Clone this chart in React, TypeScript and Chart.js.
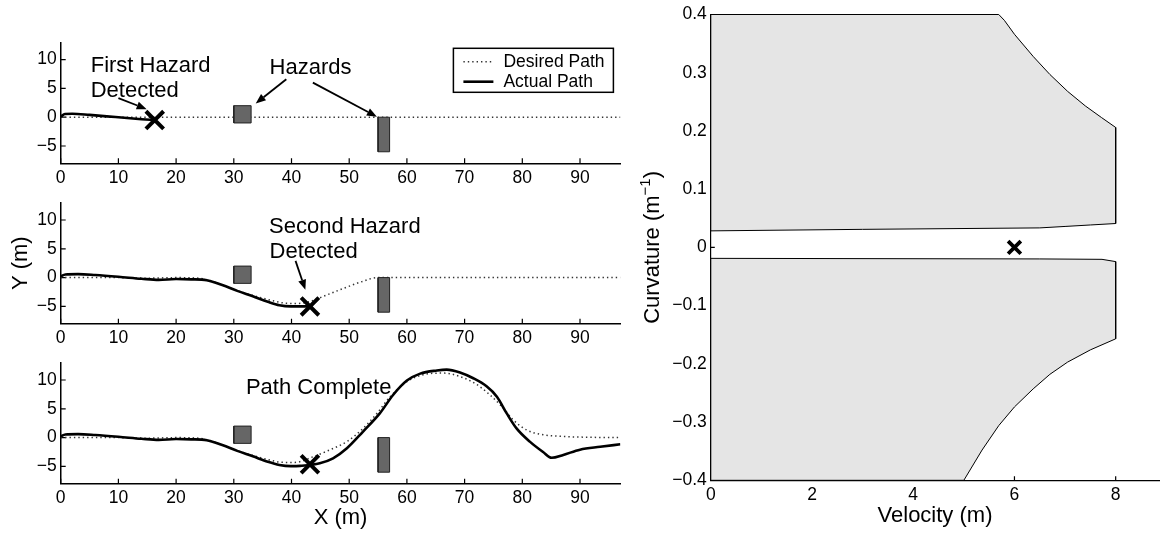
import { useEffect, useRef } from 'react';
import { Chart, registerables } from 'chart.js';

Chart.register(...registerables);

// ---------- data ----------
const xTicksPath = [0, 10, 20, 30, 40, 50, 60, 70, 80, 90];
const yTicksPath = [-5, 0, 5, 10];
const xTicksVel = [0, 2, 4, 6, 8];
const yTicksCurv = [-0.4, -0.3, -0.2, -0.1, 0, 0.1, 0.2, 0.3, 0.4];

const hazardAX = [30, 33, 33, 30, 30];
const hazardAY = [-1, -1, 2, 2, -1];
const hazardBX = [55, 57, 57, 55, 55];
const hazardBY = [-6, -6, 0, 0, -6];

// panel 1
const desired1X = [0, 97];
const desired1Y = [0, 0];
const actual1X = [0, 0.75, 2, 5, 8, 11, 14, 16.3];
const actual1Y = [0.1, 0.55, 0.6, 0.4, 0.15, -0.1, -0.35, -0.5];
const detect1X = [16.3];
const detect1Y = [-0.5];

// panel 2
const desired2X = [0, 10, 15, 20, 24, 26.6, 30.1, 33.3, 35.9, 38.6, 40.6, 43, 45.9, 49.2, 52.5, 54.8, 60, 70, 80, 90, 97];
const desired2Y = [0, 0, -0.1, 0, -0.1, -0.75, -2.1, -3.1, -3.8, -4.4, -4.5, -4.2, -3.1, -1.8, -0.6, 0, 0, 0, 0, 0, 0];
const actual2X = [0, 0.8, 3, 6, 10, 14, 17, 20, 22.6, 25.3, 28, 30.6, 33.3, 35.9, 37.9, 39.9, 41.5, 43.2];
const actual2Y = [0.2, 0.55, 0.6, 0.45, 0.15, -0.2, -0.4, -0.25, -0.3, -0.45, -1.3, -2.3, -3.25, -4.2, -4.8, -5.0, -5.0, -5.0];
const detect2X = [43.2];
const detect2Y = [-5.0];

// panel 3
const desired3X = [0, 10, 15, 20, 24, 26.6, 30.1, 33.3, 35.9, 38.6, 40.6, 43.8, 46.7, 49.6, 52.4, 54.8, 57.1, 60, 62.8, 66.3, 69.2, 72.1, 74.4, 76.7, 78.4, 80.8, 83.6, 87.1, 92, 97];
const desired3Y = [0, 0, -0.1, 0, -0.1, -0.75, -2.1, -3.1, -3.8, -4.3, -4.3, -3.3, -2.1, -0.7, 1.6, 4.2, 7.1, 9.7, 10.9, 11.2, 10.6, 9.2, 7.4, 5.1, 3.1, 1.3, 0.5, 0.2, 0.05, 0];
const actual3X = [0, 0.8, 3, 6, 10, 14, 17, 20, 22.6, 25.3, 28, 30.6, 33.3, 35.9, 37.9, 39.9, 41.5, 44.9, 47.2, 49.6, 52.4, 55.3, 57.6, 60, 62.3, 65.2, 66.9, 69.2, 71.5, 73.8, 75.6, 77.3, 79.0, 81.3, 83.6, 85.1, 87.1, 90, 93.5, 97];
const actual3Y = [0.2, 0.55, 0.6, 0.45, 0.15, -0.2, -0.4, -0.25, -0.3, -0.45, -1.3, -2.3, -3.25, -4.2, -4.75, -4.95, -4.9, -4.45, -3.6, -1.85, 1.05, 4.2, 7.4, 9.9, 11.1, 11.65, 11.8, 11.3, 10.3, 8.9, 7.1, 4.2, 1.6, -0.7, -2.5, -3.5, -3.0, -2.1, -1.6, -1.15];
const detect3X = [43.2];
const detect3Y = [-4.63];

// right chart: feasible curvature / velocity regions
const upperV = [0, 5.69, 5.8, 6.0, 6.37, 6.7, 7.05, 7.4, 7.72, 8.0, 8.0, 7.5, 7.0, 6.5, 3.0, 0, 0];
const upperK = [0.4, 0.4, 0.39, 0.366, 0.328, 0.297, 0.268, 0.243, 0.223, 0.206, 0.041, 0.0385, 0.036, 0.0335, 0.031, 0.0284, 0.4];
const lowerV = [0, 6.5, 7.73, 8.0, 8.0, 7.5, 7.05, 6.7, 6.37, 6.0, 5.69, 5.36, 5.0, 0, 0];
const lowerK = [-0.0188, -0.0198, -0.0205, -0.0244, -0.157, -0.176, -0.197, -0.218, -0.243, -0.274, -0.306, -0.348, -0.4, -0.4, -0.0188];
const stateV = [6];
const stateK = [0];

// ---------- helpers ----------
const W = 1172;
const H = 533;
const YW = 50;
const XH = 40;
const FONT = "'Liberation Sans', Arial, Helvetica, sans-serif";

const pts = (xs: number[], ys: number[]) => xs.map((x, i) => ({ x, y: ys[i] }));
const fmt = (v: number) => (v < 0 ? '\u2212' + String(-v) : String(v));

function drawTicks(chart: any, len: number, width: number) {
  const { ctx, chartArea: a, scales } = chart;
  const x = scales.x;
  const y = scales.y;
  ctx.save();
  ctx.strokeStyle = '#000';
  ctx.lineWidth = width;
  ctx.beginPath();
  x.ticks.forEach((t: any) => {
    const px = x.getPixelForValue(t.value);
    ctx.moveTo(px, a.bottom);
    ctx.lineTo(px, a.bottom - len);
  });
  y.ticks.forEach((t: any) => {
    const py = y.getPixelForValue(t.value);
    ctx.moveTo(a.left, py);
    ctx.lineTo(a.left + len, py);
  });
  ctx.stroke();
  ctx.restore();
}

function text(chart: any, s: string, xv: number, yv: number, size = 22) {
  const { ctx, scales } = chart;
  ctx.save();
  ctx.font = `${size}px ${FONT}`;
  ctx.fillStyle = '#000';
  ctx.textAlign = 'left';
  ctx.textBaseline = 'alphabetic';
  ctx.fillText(s, scales.x.getPixelForValue(xv), scales.y.getPixelForValue(yv));
  ctx.restore();
}

function arrow(chart: any, xa: number, ya: number, xb: number, yb: number) {
  const { ctx, scales } = chart;
  const x1 = scales.x.getPixelForValue(xa);
  const y1 = scales.y.getPixelForValue(ya);
  const x2 = scales.x.getPixelForValue(xb);
  const y2 = scales.y.getPixelForValue(yb);
  const ang = Math.atan2(y2 - y1, x2 - x1);
  const hl = 10;
  const hw = 4;
  const bx = x2 - hl * Math.cos(ang);
  const by = y2 - hl * Math.sin(ang);
  ctx.save();
  ctx.strokeStyle = '#000';
  ctx.fillStyle = '#000';
  ctx.lineWidth = 1.8;
  ctx.beginPath();
  ctx.moveTo(x1, y1);
  ctx.lineTo(bx, by);
  ctx.stroke();
  ctx.beginPath();
  ctx.moveTo(x2, y2);
  ctx.lineTo(bx + hw * Math.sin(ang), by - hw * Math.cos(ang));
  ctx.lineTo(bx - hw * Math.sin(ang), by + hw * Math.cos(ang));
  ctx.closePath();
  ctx.fill();
  ctx.restore();
}

function rotatedLabel(ctx: any, baseX: number, cy: number, main: string, sup: string, tail: string) {
  ctx.save();
  ctx.translate(baseX, cy);
  ctx.rotate(-Math.PI / 2);
  ctx.fillStyle = '#000';
  ctx.textBaseline = 'alphabetic';
  ctx.textAlign = 'left';
  ctx.font = `22px ${FONT}`;
  const w1 = ctx.measureText(main).width;
  const w3 = ctx.measureText(tail).width;
  ctx.font = `15px ${FONT}`;
  const w2 = sup ? ctx.measureText(sup).width : 0;
  const start = -(w1 + w2 + w3) / 2;
  ctx.font = `22px ${FONT}`;
  ctx.fillText(main, start, 0);
  if (sup) {
    ctx.font = `15px ${FONT}`;
    ctx.fillText(sup, start + w1, -9);
  }
  ctx.font = `22px ${FONT}`;
  ctx.fillText(tail, start + w1 + w2, 0);
  ctx.restore();
}

function pathDatasets(desX: number[], desY: number[], actX: number[], actY: number[], detX: number[], detY: number[]) {
  return [
    {
      data: pts(detX, detY), showLine: false, pointStyle: 'crossRot', pointRadius: 12.5,
      pointBorderWidth: 4, pointBorderColor: '#000', pointBackgroundColor: '#000', borderColor: '#000', order: 0,
    },
    {
      data: pts(actX, actY), borderColor: '#000', borderWidth: 2.6, pointRadius: 0,
      cubicInterpolationMode: 'monotone', fill: false, order: 1,
    },
    {
      data: pts(hazardAX, hazardAY), borderColor: '#222', borderWidth: 1, backgroundColor: '#666666',
      fill: 'shape', pointRadius: 0, tension: 0, order: 2,
    },
    {
      data: pts(hazardBX, hazardBY), borderColor: '#222', borderWidth: 1, backgroundColor: '#666666',
      fill: 'shape', pointRadius: 0, tension: 0, order: 2,
    },
    {
      data: pts(desX, desY), borderColor: '#333', borderWidth: 1.5, borderDash: [1.4, 3.0], pointRadius: 0,
      cubicInterpolationMode: 'monotone', fill: false, order: 3,
    },
  ];
}

type Area = { left: number; top: number; right: number; bottom: number };

function buildConfig(
  area: Area, xMin: number, xMax: number, yMin: number, yMax: number,
  xTicks: number[], yTicks: number[], datasets: any[], axisWidth: number, tickLen: number,
  decorate: (c: any) => void,
): any {
  const tickFont = { family: FONT, size: 17.5 };
  return {
    type: 'line',
    data: { datasets },
    options: {
      animation: false,
      responsive: false,
      maintainAspectRatio: false,
      devicePixelRatio: 1,
      events: [],
      layout: {
        padding: { left: area.left - YW, right: W - area.right, top: area.top, bottom: H - area.bottom - XH },
      },
      plugins: { legend: { display: false }, tooltip: { enabled: false }, title: { display: false } },
      scales: {
        x: {
          type: 'linear', position: 'bottom', min: xMin, max: xMax,
          afterFit: (s: any) => { s.height = XH; },
          afterBuildTicks: (s: any) => { s.ticks = xTicks.map((v) => ({ value: v })); },
          grid: { display: false, drawTicks: false },
          border: { display: true, color: '#000', width: axisWidth },
          ticks: { padding: 4, color: '#000', font: tickFont, maxRotation: 0, autoSkip: false, callback: (v: number) => fmt(v) },
        },
        y: {
          type: 'linear', position: 'left', min: yMin, max: yMax,
          afterFit: (s: any) => { s.width = YW; },
          afterBuildTicks: (s: any) => { s.ticks = yTicks.map((v) => ({ value: v })); },
          grid: { display: false, drawTicks: false },
          border: { display: true, color: '#000', width: axisWidth },
          ticks: { padding: 4, color: '#000', font: tickFont, autoSkip: false, callback: (v: number) => fmt(v) },
        },
      },
    },
    plugins: [
      {
        id: 'deco',
        beforeDatasetsDraw: (c: any) => drawTicks(c, tickLen, 1.2),
        afterDraw: (c: any) => decorate(c),
      },
    ],
  };
}

const LEFT = 60.7;
const RIGHT = 620.4;

function configs(): any[] {
  const p1 = buildConfig(
    { left: LEFT, right: RIGHT, top: 42.3, bottom: 163.3 }, 0, 97, -8, 13, xTicksPath, yTicksPath,
    pathDatasets(desired1X, desired1Y, actual1X, actual1Y, detect1X, detect1Y), 1.5, 5,
    (c) => {
      text(c, 'First Hazard', 5.2, 7.93);
      text(c, 'Detected', 5.2, 3.44);
      text(c, 'Hazards', 36.2, 7.48);
      arrow(c, 10.0, 3.3, 14.9, 1.4);
      arrow(c, 39.1, 6.6, 33.8, 2.4);
      arrow(c, 43.7, 6.0, 54.8, 0.1);
      // legend
      const { ctx, chartArea: a } = c;
      const lx = a.right - 167;
      const ly = a.top + 6;
      ctx.save();
      ctx.fillStyle = '#fff';
      ctx.fillRect(lx, ly, 160, 44);
      ctx.strokeStyle = '#000';
      ctx.lineWidth = 1.5;
      ctx.strokeRect(lx, ly, 160, 44);
      ctx.beginPath();
      ctx.setLineDash([1.4, 3.0]);
      ctx.strokeStyle = '#333';
      ctx.lineWidth = 1.5;
      ctx.moveTo(lx + 10, ly + 13.4);
      ctx.lineTo(lx + 40, ly + 13.4);
      ctx.stroke();
      ctx.setLineDash([]);
      ctx.beginPath();
      ctx.strokeStyle = '#000';
      ctx.lineWidth = 2.6;
      ctx.moveTo(lx + 10, ly + 33.4);
      ctx.lineTo(lx + 40, ly + 33.4);
      ctx.stroke();
      ctx.fillStyle = '#000';
      ctx.font = `17.5px ${FONT}`;
      ctx.textBaseline = 'middle';
      ctx.textAlign = 'left';
      ctx.fillText('Desired Path', lx + 50, ly + 13.4);
      ctx.fillText('Actual Path', lx + 50, ly + 33.4);
      ctx.restore();
    },
  );
  const p2 = buildConfig(
    { left: LEFT, right: RIGHT, top: 202.7, bottom: 323.7 }, 0, 97, -8, 13, xTicksPath, yTicksPath,
    pathDatasets(desired2X, desired2Y, actual2X, actual2Y, detect2X, detect2Y), 1.5, 5,
    (c) => {
      text(c, 'Second Hazard', 36.1, 7.76);
      text(c, 'Detected', 36.2, 3.44);
      arrow(c, 40.7, 2.9, 42.4, -2.1);
      const { ctx, chartArea: a } = c;
      rotatedLabel(ctx, 27, (a.top + a.bottom) / 2, 'Y (m)', '', '');
    },
  );
  const p3 = buildConfig(
    { left: LEFT, right: RIGHT, top: 362.7, bottom: 483.7 }, 0, 97, -8, 13, xTicksPath, yTicksPath,
    pathDatasets(desired3X, desired3Y, actual3X, actual3Y, detect3X, detect3Y), 1.5, 5,
    (c) => {
      text(c, 'Path Complete', 32.1, 7.6);
      const { ctx, chartArea: a } = c;
      ctx.save();
      ctx.fillStyle = '#000';
      ctx.font = `22px ${FONT}`;
      ctx.textAlign = 'center';
      ctx.textBaseline = 'alphabetic';
      ctx.fillText('X (m)', (a.left + a.right) / 2, a.bottom + 39.8);
      ctx.restore();
    },
  );
  const rightDatasets = [
    {
      data: pts(stateV, stateK), showLine: false, pointStyle: 'crossRot', pointRadius: 9,
      pointBorderWidth: 3.8, pointBorderColor: '#000', borderColor: '#000', order: 0,
    },
    {
      data: pts(upperV, upperK), borderColor: '#000', borderWidth: 1, backgroundColor: '#e5e5e5',
      fill: 'shape', pointRadius: 0, tension: 0, order: 1, clip: 3,
    },
    {
      data: pts(lowerV, lowerK), borderColor: '#000', borderWidth: 1, backgroundColor: '#e5e5e5',
      fill: 'shape', pointRadius: 0, tension: 0, order: 1, clip: 3,
    },
  ];
  const r = buildConfig(
    { left: 710.8, right: 1172, top: 11, bottom: 480.3 }, 0, 8.86, -0.4, 0.4, xTicksVel, yTicksCurv,
    rightDatasets, 1.2, 4,
    (c) => {
      const { ctx, chartArea: a } = c;
      ctx.save();
      ctx.fillStyle = '#000';
      ctx.font = `22px ${FONT}`;
      ctx.textAlign = 'center';
      ctx.textBaseline = 'alphabetic';
      ctx.fillText('Velocity (m)', (a.left + a.right) / 2, a.bottom + 41.7);
      ctx.restore();
      rotatedLabel(ctx, 659, (a.top + a.bottom) / 2, 'Curvature (m', '\u22121', ')');
    },
  );
  return [p1, p2, p3, r];
}

export default function App() {
  const r0 = useRef<HTMLCanvasElement>(null);
  const r1 = useRef<HTMLCanvasElement>(null);
  const r2 = useRef<HTMLCanvasElement>(null);
  const r3 = useRef<HTMLCanvasElement>(null);
  const refs = [r0, r1, r2, r3];

  useEffect(() => {
    const cfgs = configs();
    const charts = cfgs.map((cfg, i) => new Chart(refs[i].current as HTMLCanvasElement, cfg));
    return () => charts.forEach((c) => c.destroy());
  }, []);

  return (
    <div style={{ position: 'fixed', left: 0, top: 0, width: W, height: H, background: '#fff', overflow: 'hidden' }}>
      {refs.map((r, i) => (
        <canvas
          key={i}
          ref={r}
          width={W}
          height={H}
          style={{ position: 'absolute', left: 0, top: 0, width: W, height: H }}
        />
      ))}
    </div>
  );
}
